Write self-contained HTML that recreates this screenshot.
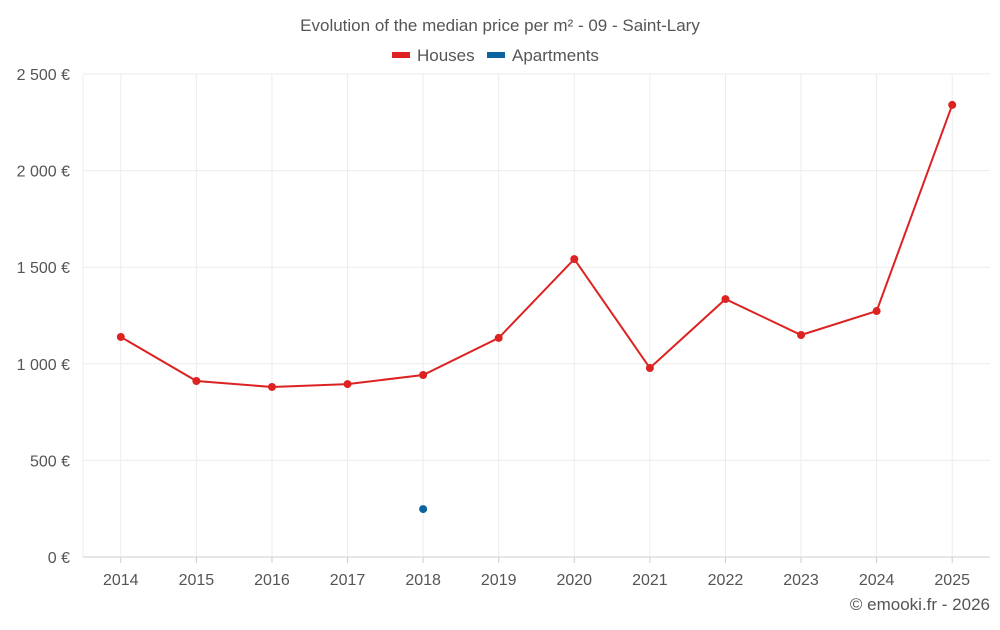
<!DOCTYPE html>
<html><head><meta charset="utf-8"><style>
body{margin:0;background:#fff;font-family:"Liberation Sans",sans-serif;}
svg text{font-family:"Liberation Sans",sans-serif;fill:#555;}
</style></head><body>
<svg id="c" width="1000" height="625">
<text x="500" y="31" text-anchor="middle" font-size="17">Evolution of the median price per m² - 09 - Saint-Lary</text>
<g><rect x="392" y="52" width="18" height="6" fill="#dd2222"/><text x="417" y="61" font-size="17">Houses</text></g>
<g><rect x="487" y="52" width="18" height="6" fill="#0a64a0"/><text x="512" y="61" font-size="17">Apartments</text></g>
<text x="990" y="610" text-anchor="end" font-size="17">© emooki.fr - 2026</text>
<g id="grid"></g><g id="axes"></g><g id="marks"></g>
</svg>
<script>
const categories=["2014","2015","2016","2017","2018","2019","2020","2021","2022","2023","2024","2025"];
const houses=[1139,911,880,895,942,1134,1542,978,1335,1149,1273,2340];
const apartments=[null,null,null,null,248,null,null,null,null,null,null,null];
const yTicks=[0,500,1000,1500,2000,2500];
const yLabels=["0 €","500 €","1 000 €","1 500 €","2 000 €","2 500 €"];
const L=83,R=990,T=74,B=557,NS="http://www.w3.org/2000/svg";
const bw=(R-L)/categories.length;
const x=i=>L+bw*(i+0.5);
const y=v=>B-(v/2500)*(B-T);
function mk(t,a,p){const e=document.createElementNS(NS,t);for(const k in a)e.setAttribute(k,a[k]);p.appendChild(e);return e;}
const g=document.getElementById('grid'),ax=document.getElementById('axes'),m=document.getElementById('marks');
yTicks.forEach((v,i)=>{
 const l=mk('line',{x1:L,x2:R,y1:y(v),y2:y(v),stroke:v===0?'#ccc':'#ececec'},g);
 
 
 const t=mk('text',{x:70,y:y(v)+6,'text-anchor':'end','font-size':16},ax);t.textContent=yLabels[i];
 
 
});
mk('line',{x1:L,x2:L,y1:T,y2:B,stroke:'#ececec'},g);
categories.forEach((c,i)=>{
 const l=mk('line',{x1:x(i),x2:x(i),y1:T,y2:B,stroke:'#ececec'},g);
 
 
 mk('line',{x1:x(i),x2:x(i),y1:B,y2:B+6,stroke:'#ccc'},ax);
 const t=mk('text',{x:x(i),y:585,'text-anchor':'middle','font-size':16},ax);t.textContent=c;
 
 
});
const p=mk('polyline',{points:houses.map((v,i)=>x(i)+','+y(v)).join(' '),fill:'none',stroke:'#dd2222','stroke-width':2},m);


houses.forEach((v,i)=>{const c=mk('circle',{cx:x(i),cy:y(v),r:4,fill:'#dd2222'},m);
 
 });
apartments.forEach((v,i)=>{if(v==null)return;const c=mk('circle',{cx:x(i),cy:y(v),r:4,fill:'#0a64a0'},m);
 
 });
</script>
</body></html>
